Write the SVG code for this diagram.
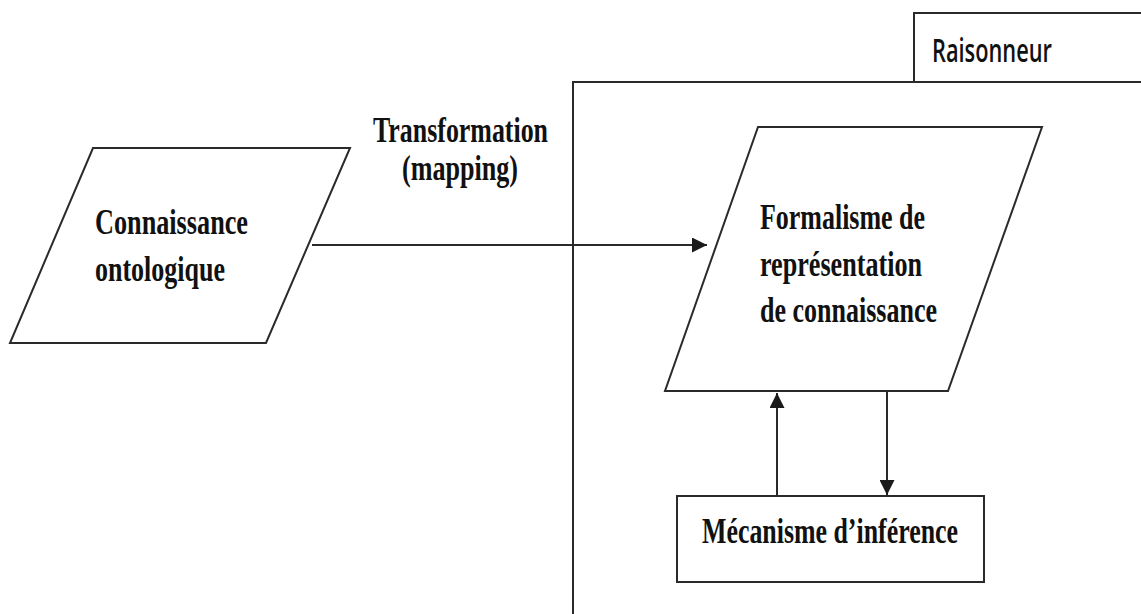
<svg xmlns="http://www.w3.org/2000/svg" width="1141" height="614" viewBox="0 0 1141 614">
<defs>
<marker id="ah" viewBox="0 0 10 10" refX="10" refY="5" markerWidth="18" markerHeight="15" markerUnits="userSpaceOnUse" orient="auto">
<path d="M0,0 L10,5 L0,10 Z" fill="#1a1a1a"/>
</marker>
<style>
.shape{fill:#fff;stroke:#2a2a2a;stroke-width:2}
.line{fill:none;stroke:#2a2a2a;stroke-width:2}
.t{font-family:"Liberation Serif","Times New Roman",serif;font-weight:bold;font-size:31px;fill:#111}
.s{font-family:"Open Sans","Liberation Sans",Arial,sans-serif;font-weight:600;font-size:29px;fill:#111}
</style>
</defs>
<rect width="1141" height="614" fill="#fff"/>
<g id="raisonneur">
<path class="line" d="M573,616 V82 H1145"/>
<path class="line" d="M914,82 V13 H1145"/>
<text class="s" transform="translate(932,62) scale(1,1.1)" textLength="120" lengthAdjust="spacingAndGlyphs">Raisonneur</text>
</g>
<g id="connaissance-ontologique">
<polygon class="shape" points="93,148 350,148 266,343 10,343"/>
<text class="t" transform="translate(95,234) scale(1,1.13)" textLength="153" lengthAdjust="spacingAndGlyphs">Connaissance</text>
<text class="t" transform="translate(95,281) scale(1,1.13)" textLength="130" lengthAdjust="spacingAndGlyphs">ontologique</text>
</g>
<g id="transformation-label">
<text class="t" transform="translate(373,142) scale(1,1.13)" textLength="175" lengthAdjust="spacingAndGlyphs">Transformation</text>
<text class="t" transform="translate(402,180) scale(1,1.13)" textLength="116" lengthAdjust="spacingAndGlyphs">(mapping)</text>
</g>
<g id="formalisme">
<polygon class="shape" points="758,127 1042,127 948,391 665,391"/>
<text class="t" transform="translate(760,229) scale(1,1.13)" textLength="165" lengthAdjust="spacingAndGlyphs">Formalisme de</text>
<text class="t" transform="translate(760,276) scale(1,1.13)" textLength="162" lengthAdjust="spacingAndGlyphs">représentation</text>
<text class="t" transform="translate(760,322) scale(1,1.13)" textLength="177" lengthAdjust="spacingAndGlyphs">de connaissance</text>
</g>
<g id="mecanisme">
<rect class="shape" x="677" y="496" width="307" height="86"/>
<text class="t" transform="translate(702,543) scale(1,1.13)" textLength="256" lengthAdjust="spacingAndGlyphs">Mécanisme d’inférence</text>
</g>
<g id="connectors">
<line class="line" x1="312" y1="245" x2="707" y2="245" marker-end="url(#ah)"/>
<line class="line" x1="777" y1="496" x2="777" y2="393" marker-end="url(#ah)"/>
<line class="line" x1="887" y1="392" x2="887" y2="495" marker-end="url(#ah)"/>
</g>
</svg>
